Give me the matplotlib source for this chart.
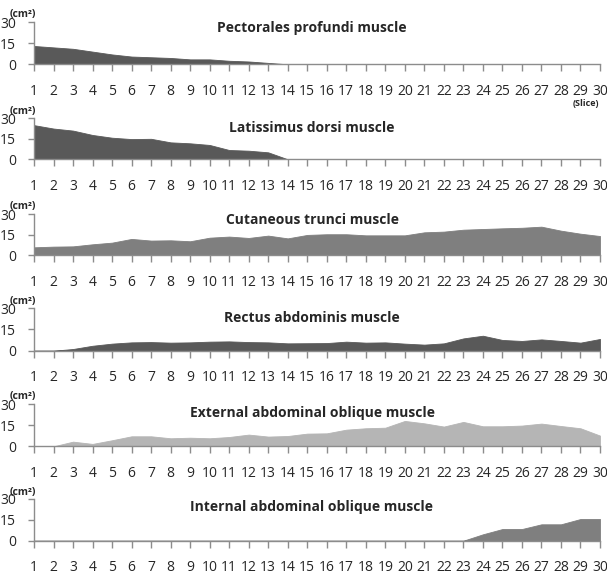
import matplotlib
matplotlib.use("Agg")
import matplotlib.pyplot as plt
import numpy as np

plt.rcParams['font.family'] = ['Open Sans', 'DejaVu Sans']

slices = list(range(1, 31))

pectorales = [13, 12, 11, 9, 7, 5.5, 5, 4.5, 3.5, 3.5, 2.5, 2, 1, 0, 0, 0, 0, 0, 0, 0,
              0, 0, 0, 0, 0, 0, 0, 0, 0, 0]
latissimus = [25, 22.5, 21, 17.8, 15.8, 14.8, 15, 12.4, 11.7, 10.5, 6.8, 6.3, 5.1, 0, 0, 0, 0, 0, 0, 0,
              0, 0, 0, 0, 0, 0, 0, 0, 0, 0]
cutaneous = [5.8, 6.3, 6.5, 8, 9.2, 11.9, 10.7, 10.9, 10.2, 12.8, 13.6, 12.6, 14.3, 12.3, 14.8,
             15.3, 15.3, 14.5, 14.5, 14.5, 16.7, 17.2, 18.6, 19.1, 19.6, 20, 20.8, 17.9, 15.7, 14]
rectus = [0, 0, 1.2, 3.5, 5, 5.9, 6.1, 5.7, 5.9, 6.4, 6.6, 6.1, 5.9, 5.2, 5.3,
          5.4, 6.4, 5.7, 5.9, 5, 4.3, 5.2, 8.7, 10.6, 7.6, 6.9, 8, 6.9, 5.7, 8.3]
external = [0, 0, 3.3, 1.7, 4.3, 7.1, 7.1, 5.7, 6.1, 5.7, 6.6, 8.3, 6.9, 7.3, 9,
            9.2, 11.8, 12.8, 13.2, 18, 16.3, 14, 17.3, 14.2, 14.2, 14.7, 16.1, 14.4, 12.8, 7.6]
internal = [0] * 23 + [4.6, 8.4, 8.4, 11.8, 11.8, 15.6, 15.6]

titles = ["Pectorales profundi muscle", "Latissimus dorsi muscle", "Cutaneous trunci muscle",
          "Rectus abdominis muscle", "External abdominal oblique muscle",
          "Internal abdominal oblique muscle"]
series = [pectorales, latissimus, cutaneous, rectus, external, internal]
colors = ["#595959", "#595959", "#7f7f7f", "#595959", "#b5b5b5", "#7f7f7f"]

W, H = 607, 575
fig = plt.figure(figsize=(W / 100, H / 100), dpi=100)

# panel (top, bottom) in pixels
panels = [(22, 64.3), (118.3, 159.3), (214, 255.3), (308.3, 350.7), (404, 446.3), (499, 540.7)]
title_y = [28, 128, 220, 318, 413, 507]
x_left, x_right = 34, 600

for i, ((top, bot), vals, col, ttl) in enumerate(zip(panels, series, colors, titles)):
    ax = fig.add_axes([x_left / W, 1 - bot / H, (x_right - x_left) / W, (bot - top) / H])
    ax.fill_between(slices, vals, 0, color=col, linewidth=0.6, edgecolor=col)
    ax.set_xlim(1, 30)
    ax.set_ylim(0, 30)
    ax.set_xticks(slices)
    ax.set_xticklabels([str(s) for s in slices])
    ax.set_yticks([0, 15, 30])
    ax.set_yticklabels(["0", "15", "30"])
    for s in ["top", "right"]:
        ax.spines[s].set_visible(False)
    for s in ["left", "bottom"]:
        ax.spines[s].set_color("#8c8c8c")
        ax.spines[s].set_linewidth(1.0)
    ax.tick_params(axis="x", direction="out", length=5, width=1, color="#8c8c8c",
                   pad=9, labelsize=10, labelcolor="#262626")
    ax.tick_params(axis="y", direction="out", length=4, width=1, color="#8c8c8c",
                   pad=9, labelsize=10, labelcolor="#262626")
    ax.patch.set_alpha(0)
    fig.text(312 / W, 1 - title_y[i] / H, ttl, ha="center", va="center",
             fontsize=10, fontweight="bold", color="#262626")
    fig.text(10 / W, 1 - (top - 7) / H, "(cm²)", ha="left", va="center",
             fontsize=7.5, fontweight="bold", color="#262626")

fig.text(599 / W, 1 - 103 / H, "(Slice)", ha="right", va="center",
         fontsize=6.5, fontweight="bold", color="#262626")

fig.savefig("out.png", dpi=100)
